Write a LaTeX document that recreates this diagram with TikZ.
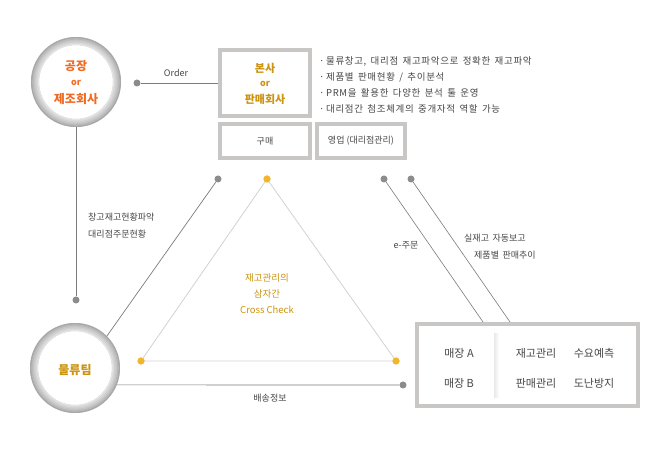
\documentclass[tikz,border=0pt]{standalone}
\usepackage{fontspec}
\setmainfont{Noto Sans CJK KR}
\definecolor{ringgray}{HTML}{C8C8C8}
\definecolor{boxgray}{HTML}{C9C6C6}
\definecolor{linegray}{HTML}{7C7C7C}
\definecolor{dotgray}{HTML}{8C8C8C}
\definecolor{trigray}{HTML}{D2D2D2}
\definecolor{dotyellow}{HTML}{F2B52B}
\definecolor{orangetxt}{HTML}{F06A22}
\definecolor{goldtxt}{HTML}{CC9410}
\definecolor{txtgray}{HTML}{474747}
\begin{document}
\begin{tikzpicture}[x=1pt,y=-1pt,
  ring/.style={circle, draw=ringgray, line width=8pt, fill=white, minimum size=82pt, inner sep=0pt},
  gbox/.style={rectangle, draw=boxgray, line width=4pt, fill=white, inner sep=0pt},
  gdot/.style={circle, fill=dotgray, inner sep=0pt, minimum size=7pt},
  ydot/.style={circle, fill=dotyellow, inner sep=0pt, minimum size=7pt},
  conn/.style={draw=linegray, line width=0.7pt},
  tri/.style={draw=trigray, line width=0.8pt},
  lbl/.style={text=txtgray, font=\fontsize{9}{11}\selectfont, inner sep=0pt},
  bul/.style={text=txtgray, font=\fontsize{9.5}{11}\selectfont\addfontfeatures{LetterSpace=7}, inner sep=0pt},
  stxt/.style={text=txtgray, font=\fontsize{11}{13}\selectfont, inner sep=0pt},
  bigtxt/.style={font=\bfseries\fontsize{12}{15}\selectfont, inner sep=0pt},
  smalltxt/.style={font=\bfseries\fontsize{9}{11}\selectfont, inner sep=0pt}
]
\useasboundingbox (0,0) rectangle (670,470);
\fill[white] (0,0) rectangle (670,470);

% circles
\node[ring] (c1) at (76,82) {};
\node[ring] (c2) at (75,368) {};
\foreach \cc in {c1,c2}{
  \draw[black!34, line width=1.6pt] (\cc) circle[radius=44.2];
  \draw[black!28, line width=1.6pt] (\cc) circle[radius=42.8];
  \draw[black!23, line width=1.6pt] (\cc) circle[radius=41.4];
  \draw[black!19, line width=1.6pt] (\cc) circle[radius=40];
  \draw[black!15, line width=1.6pt] (\cc) circle[radius=38.6];
  \draw[black!10, line width=1pt] (\cc) circle[radius=37.5];
}
\node[bigtxt, text=orangetxt] (c1a) at (76,66) {공장};
\node[smalltxt, text=orangetxt] (c1b) at (76,83) {or};
\node[bigtxt, text=orangetxt] (c1c) at (76,99) {제조회사};
\node[bigtxt, text=goldtxt] (c2a) at (75,370) {물류팀};

% boxes
\node[gbox, minimum width=90pt, minimum height=66pt] (hq) at (265,83) {};
\node[bigtxt, text=goldtxt, font=\bfseries\fontsize{11}{14}\selectfont] (hqa) at (265,68) {본사};
\node[smalltxt, text=goldtxt] (hqb) at (265,84) {or};
\node[bigtxt, text=goldtxt, font=\bfseries\fontsize{11}{14}\selectfont] (hqc) at (265,99) {판매회사};
\node[gbox, minimum width=90pt, minimum height=34pt] (buy) at (265,141) {};
\node[lbl] (buyt) at (265,141) {구매};
\node[gbox, minimum width=88pt, minimum height=34pt] (sales) at (361,141) {};
\node[lbl] (salest) at (361,141) {영업 (대리점관리)};

% bullets
\node[bul, anchor=west] (b1) at (319,61) {·\,물류창고,\, 대리점\, 재고파악으로\, 정확한\, 재고파악};
\node[bul, anchor=west] (b2) at (319,77) {·\,제품별\, 판매현황\, /\, 추이분석};
\node[bul, anchor=west] (b3) at (319,93) {·\,PRM을\, 활용한\, 다양한\, 분석\, 툴\, 운영};
\node[bul, anchor=west] (b4) at (319,109) {·\,대리점간\, 첨조체계의\, 중개자적\, 역할\, 가능};

% order
\node[gdot] (od) at (137,83) {};
\draw[conn] (od) -- (hq.west);
\node[lbl] (ordert) at (176,73) {Order};

% vertical
\node[gdot] (vd) at (76,300) {};
\draw[conn] (c1.south) -- (vd);
\node[lbl, anchor=west, align=left, font=\fontsize{9}{17}\selectfont] (vt) at (88,226) {창고재고현황파악\\대리점주문현황};

% triangle
\node[ydot] (t1) at (267,179) {};
\node[ydot] (t2) at (141,361) {};
\node[ydot] (t3) at (396,361) {};
\draw[tri] (t1.center) -- (t2.center) -- (t3.center) -- cycle;
\node[ydot] at (267,179) {};
\node[ydot] at (141,361) {};
\node[ydot] at (396,361) {};
\node[text=goldtxt, font=\fontsize{9.5}{16}\selectfont, align=center, inner sep=0pt] (cc) at (267,294) {재고관리의\\삼자간\\Cross Check};

% left diagonal
\node[gdot] (ld) at (218,179) {};
\draw[conn] (ld) -- (c2.45);

% store box
\node[gbox, minimum width=221pt, minimum height=82pt] (store) at (527.5,365) {};
\shade[left color=black!9, right color=white] (494,334) rectangle (499,398);
\node[stxt] (sa) at (459,353) {매장 A};
\node[stxt] (sb) at (459,383) {매장 B};
\node[stxt] (s1) at (536,353) {재고관리};
\node[stxt] (s2) at (594,353) {수요예측};
\node[stxt] (s3) at (536,383) {판매관리};
\node[stxt] (s4) at (594,383) {도난방지};

% right diagonals
\node[gdot] (rd1) at (384,179) {};
\node[gdot] (rd2) at (411,179) {};
\coordinate (e1) at (483,322);
\coordinate (e2) at (510,322);
\draw[conn, line width=0.6pt] (rd1) -- (e1);
\draw[conn, line width=0.6pt] (rd2) -- (e2);
\node[lbl] (eo) at (406,245) {e-주문};
\node[lbl, anchor=west] (rt1) at (464,238) {실재고\, 자동보고};
\node[lbl, anchor=west] (rt2) at (474,255) {제품별\, 판매추이};

% bottom
\node[gdot] (bd) at (403,385) {};
\draw[conn] (c2.-22) -- (bd);
\node[lbl] (bt) at (270,398) {배송정보};
\end{tikzpicture}
\end{document}
